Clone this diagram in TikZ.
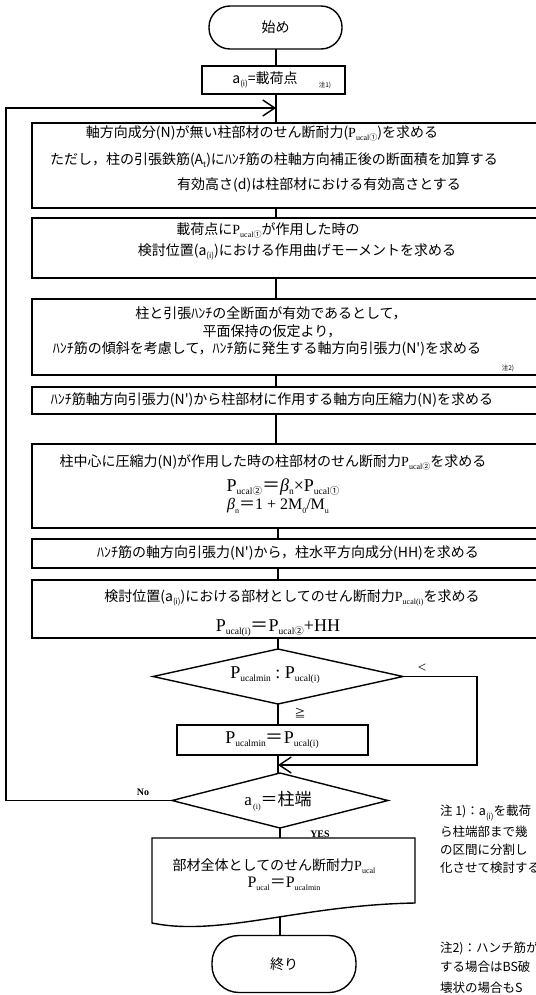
\documentclass[tikz,border=0pt]{standalone}
\usepackage{fontspec}
\setmainfont{Liberation Serif}
\newfontfamily\jp{Noto Sans CJK JP}
\usetikzlibrary{shapes.geometric,arrows.meta}
\newcommand\lo[1]{\raisebox{-0.45ex}{\fontsize{8}{9}\selectfont #1}}
\newcommand\lob[1]{\raisebox{-0.45ex}{\fontsize{9.5}{10}\selectfont #1}}
\newcommand\cone{{\jp ①}}
\newcommand\ctwo{{\jp ②}}
\newcommand\Pu[1]{{\rmfamily P\lo{ucal#1}}}
\newcommand\PU[1]{{\rmfamily P\lob{ucal#1}}}
\begin{document}
\begin{tikzpicture}[x=1pt,y=-1pt,
  every node/.style={inner sep=0pt,outer sep=0pt},
  ln/.style={line width=1.4pt},
  box/.style={draw,line width=1.4pt,rectangle},
  term/.style={draw,line width=1.4pt,rectangle},
  dia/.style={draw,line width=1.4pt,diamond},
  jt/.style={font=\jp\fontsize{14}{16}\selectfont},
  nt/.style={font=\jp\fontsize{12.5}{15}\selectfont,anchor=west},
  ft/.style={font=\rmfamily\fontsize{18}{20}\selectfont},
  fs/.style={font=\rmfamily\fontsize{16}{18}\selectfont},
  sm/.style={font=\jp\fontsize{6.5}{7}\selectfont},
  lab/.style={font=\rmfamily\bfseries\fontsize{10}{12}\selectfont},
  arr/.style={line width=1.4pt,-{Straight Barb[length=12pt,width=16pt,line width=1.4pt]}},
]
\useasboundingbox (0,0) rectangle (535,995);
\coordinate (cx) at (276,0);
\coordinate (cy) at (278,0);

% start
\node[term,rounded corners=21pt,minimum width=133pt,minimum height=43pt,jt] (start) at (275.5,27.5) {始め};

% a(i) box
\node[box,minimum width=143pt,minimum height=28pt] (ai) at (273.5,80) {};
\node[jt] (aitxt) at (265,80) {a\lo{(i)}=載荷点};
\node[sm] (n1) at (325,85) {注1)};
\draw[ln] (cx |- start.south) -- (cx |- ai.north);

% box 1
\node[box,minimum width=508pt,minimum height=85pt] (b1) at (286,165.5) {};
\node[jt] (b1a) at (262,133) {軸方向成分(N)が無い柱部材のせん断耐力(\Pu{\cone})を求める};
\node[jt] (b1b) at (274,160) {ただし，柱の引張鉄筋(A\lo{t})にﾊﾝﾁ筋の柱軸方向補正後の断面積を加算する};
\node[jt] (b1c) at (319,185) {有効高さ(d)は柱部材における有効高さとする};
\coordinate (join1) at (276,108);
\coordinate (lx) at (6,108);
\draw[ln] (cx |- ai.south) -- (cx |- b1.north);

% box 2
\node[box,minimum width=508pt,minimum height=60pt] (b2) at (286,248) {};
\node[jt] (b2a) at (268,230) {載荷点に\Pu{\cone}が作用した時の};
\node[jt] (b2b) at (297,252) {検討位置(a\lo{(i)})における作用曲げモーメントを求める};
\draw[ln] (cx |- b1.south) -- (cx |- b2.north);

% box 3
\node[box,minimum width=508pt,minimum height=76pt] (b3) at (286,337) {};
\node[jt] (b3a) at (271,313) {柱と引張ﾊﾝﾁの全断面が有効であるとして，};
\node[jt] (b3b) at (272,331) {平面保持の仮定より，};
\node[jt] (b3c) at (267,349) {ﾊﾝﾁ筋の傾斜を考慮して，ﾊﾝﾁ筋に発生する軸方向引張力(N')を求める};
\node[sm] (n2) at (508,368) {注2)};
\draw[ln] (cx |- b2.south) -- (cx |- b3.north);

% box 4
\node[box,minimum width=508pt,minimum height=27pt] (b4) at (286,400.5) {};
\node[jt] (b4a) at (272,400) {ﾊﾝﾁ筋軸方向引張力(N')から柱部材に作用する軸方向圧縮力(N)を求める};
\draw[ln] (cx |- b3.south) -- (cx |- b4.north);

% box 5
\node[box,minimum width=508pt,minimum height=84pt] (b5) at (286,486) {};
\node[jt] (b5a) at (273,462) {柱中心に圧縮力(N)が作用した時の柱部材のせん断耐力\Pu{\ctwo}を求める};
\node[ft] (b5b) at (283,487) {\PU{\ctwo}{\jp ＝}\textit{β}\lob{n}×\PU{\cone}};
\node[fs] (b5c) at (278,506) {\textit{β}\lo{n}{\jp ＝}1 + 2M\lo{0}/M\lo{u}};
\draw[ln] (cx |- b4.south) -- (cx |- b5.north);

% box 6
\node[box,minimum width=508pt,minimum height=29pt] (b6) at (286,553.5) {};
\node[jt] (b6a) at (288,553) {ﾊﾝﾁ筋の軸方向引張力(N')から，柱水平方向成分(HH)を求める};
\draw[ln] (cy |- b5.south) -- (cy |- b6.north);

% box 7
\node[box,minimum width=508pt,minimum height=58pt] (b7) at (286,609) {};
\node[jt] (b7a) at (292,598) {検討位置(a\lo{(i)})における部材としてのせん断耐力\Pu{(i)}を求める};
\node[ft] (b7b) at (278,628) {\PU{(i)}{\jp ＝}\PU{\ctwo}+HH};
\draw[ln] (cy |- b6.south) -- (cy |- b7.north);

% diamond 1
\node[dia,minimum width=250pt,minimum height=55pt] (d1) at (278,676.5) {};
\node[ft] (d1t) at (275,675) {\PU{min}\ :\ \PU{(i)}};
\draw[ln] (cy |- b7.south) -- (d1.north);
\node[font=\rmfamily\fontsize{15}{16}\selectfont] (lt) at (422,668) {<};
\node[font=\jp\fontsize{11}{12}\selectfont] (ge) at (300,713) {≧};

% box 8
\node[box,minimum width=191pt,minimum height=30pt] (b8) at (272.5,740) {};
\node[ft] (b8t) at (272,740) {\PU{min}{\jp ＝}\PU{(i)}};
\draw[ln] (d1.south) -- (cy |- b8.north);

% merge
\coordinate (join2) at (278,765);
\coordinate (rx) at (477,676.5);
\draw[arr] (d1.east) -- (rx) -- (rx |- join2) -- (join2);

% diamond 2
\node[dia,minimum width=216pt,minimum height=55pt] (d2) at (280,800.5) {};
\node[font=\rmfamily\fontsize{17}{19}\selectfont] (d2t) at (278,801) {a\lo{\,(i)}{\jp ＝柱端}};
\draw[ln] (cy |- b8.south) -- (cy |- d2.north);
\draw[arr] (d2.west) -- (d2.west -| lx) -- (lx) -- (join1);
\node[lab] (no) at (143,792) {No};
\node[lab] (yes) at (320,834) {YES};

% final box (document shape)
\node[minimum width=263pt,minimum height=80pt] (fin) at (283.5,878) {};
\draw[ln] (fin.north west) -- (152,923) .. controls (220,937) and (300,905) .. (415,903) -- (fin.north east) -- cycle;
\node[jt] (fina) at (274,866) {部材全体としてのせん断耐力\Pu{}};
\node[fs] (finb) at (284,884) {\Pu{}{\jp ＝}\Pu{min}};
\draw[ln] (280,828) -- (280,838);
\coordinate (wv) at (280,917);
\draw[ln] (wv) -- (280,935);

% end
\node[term,rounded corners=27pt,minimum width=144pt,minimum height=57pt,jt] (end) at (284,964) {終り};

% notes
\node[nt] (na1) at (440,813) {注 1)：a\lo{(i)}を載荷};
\node[nt] (na2) at (440,832) {ら柱端部まで幾};
\node[nt] (na3) at (440,850) {の区間に分割し};
\node[nt] (na4) at (440,868) {化させて検討する};
\node[nt] (nb1) at (440,948) {注2)：ハンチ筋が};
\node[nt] (nb2) at (440,967) {する場合はBS破};
\node[nt] (nb3) at (440,988) {壊状の場合もS};
\end{tikzpicture}
\end{document}
